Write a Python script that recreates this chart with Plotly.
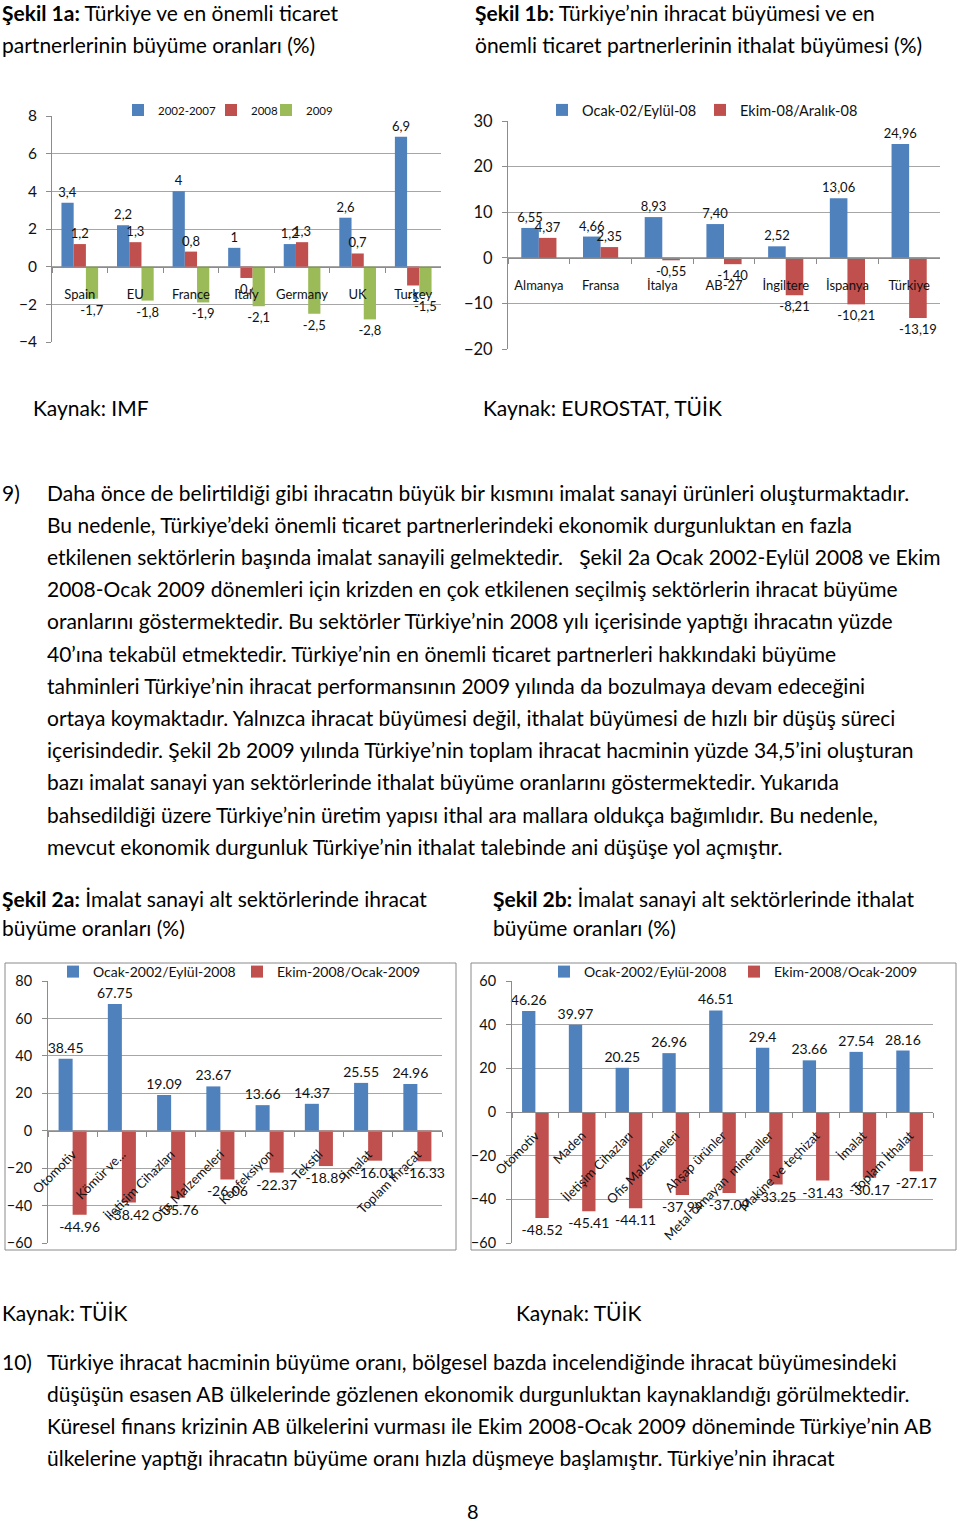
import plotly.graph_objects as go

W, H = 960, 1524
FONT = "Lato"
BLUE, RED, GREEN = "#4F81BD", "#C0504D", "#9BBB59"
GRID = "#a6a6a6"
AXIS = "#8c8c8c"

# ---------------- data ----------------
c1a_categories = ["Spain", "EU", "France", "Italy", "Germany", "UK", "Turkey"]
c1a_names = ["2002-2007", "2008", "2009"]
c1a_2002_2007 = [3.4, 2.2, 4, 1, 1.2, 2.6, 6.9]
c1a_2008 = [1.2, 1.3, 0.8, -0.6, 1.3, 0.7, -1]
c1a_2009 = [-1.7, -1.8, -1.9, -2.1, -2.5, -2.8, -1.5]
c1a_yticks = [-4, -2, 0, 2, 4, 6, 8]

c1b_categories = ["Almanya", "Fransa", "İtalya", "AB-27", "İngiltere", "İspanya", "Türkiye"]
c1b_names = ["Ocak-02/Eylül-08", "Ekim-08/Aralık-08"]
c1b_ocak02_eylul08 = [6.55, 4.66, 8.93, 7.40, 2.52, 13.06, 24.96]
c1b_ekim08_aralik08 = [4.37, 2.35, -0.55, -1.40, -8.21, -10.21, -13.19]
c1b_yticks = [-20, -10, 0, 10, 20, 30]

c2a_categories = ["Otomotiv", "Kömür ve...", "İletişim Cihazları", "Ofis Malzemeleri",
                  "Konfeksiyon", "Tekstil", "İmalat", "Toplam İhracat"]
c2a_names = ["Ocak-2002/Eylül-2008", "Ekim-2008/Ocak-2009"]
c2a_ocak2002_eylul2008 = [38.45, 67.75, 19.09, 23.67, 13.66, 14.37, 25.55, 24.96]
c2a_ekim2008_ocak2009 = [-44.96, -38.42, -35.76, -26.06, -22.37, -18.89, -16.01, -16.33]
c2a_yticks = [-60, -40, -20, 0, 20, 40, 60, 80]

c2b_categories = ["Otomotiv", "Maden", "İletişim Cihazları", "Ofis Malzemeleri", "Ahşap ürünler",
                  "Metal olmayan  mineraller", "Makine ve teçhizat", "İmalat", "Toplam İthalat"]
c2b_names = ["Ocak-2002/Eylül-2008", "Ekim-2008/Ocak-2009"]
c2b_ocak2002_eylul2008 = [46.26, 39.97, 20.25, 26.96, 46.51, 29.4, 23.66, 27.54, 28.16]
c2b_ekim2008_ocak2009 = [-48.52, -45.41, -44.11, -37.99, -37.09, -33.25, -31.43, -30.17, -27.17]
c2b_yticks = [-60, -40, -20, 0, 20, 40, 60]

title_1a = ["<b>Şekil 1a:</b> Türkiye ve en önemli ticaret", "partnerlerinin büyüme oranları (%)"]
title_1b = ["<b>Şekil 1b:</b> Türkiye’nin ihracat büyümesi ve en",
            "önemli ticaret partnerlerinin ithalat büyümesi (%)"]
title_2a = ["<b>Şekil 2a:</b> İmalat sanayi alt sektörlerinde ihracat", "büyüme oranları (%)"]
title_2b = ["<b>Şekil 2b:</b> İmalat sanayi alt sektörlerinde ithalat", "büyüme oranları (%)"]
source_1a, source_1b = "Kaynak: IMF", "Kaynak: EUROSTAT, TÜİK"
source_2a, source_2b = "Kaynak: TÜİK", "Kaynak: TÜİK"

para9_lines = [
    "Daha önce de belirtildiği gibi ihracatın büyük bir kısmını imalat sanayi ürünleri oluşturmaktadır.",
    "Bu nedenle, Türkiye’deki önemli ticaret partnerlerindeki ekonomik durgunluktan en fazla",
    "etkilenen sektörlerin başında imalat sanayili gelmektedir.   Şekil 2a Ocak 2002-Eylül 2008 ve Ekim",
    "2008-Ocak 2009 dönemleri için krizden en çok etkilenen seçilmiş sektörlerin ihracat büyüme",
    "oranlarını göstermektedir. Bu sektörler Türkiye’nin 2008 yılı içerisinde yaptığı ihracatın yüzde",
    "40’ına tekabül etmektedir. Türkiye’nin en önemli ticaret partnerleri hakkındaki büyüme",
    "tahminleri Türkiye’nin ihracat performansının 2009 yılında da bozulmaya devam edeceğini",
    "ortaya koymaktadır. Yalnızca ihracat büyümesi değil, ithalat büyümesi de hızlı bir düşüş süreci",
    "içerisindedir. Şekil 2b 2009 yılında Türkiye’nin toplam ihracat hacminin yüzde 34,5’ini oluşturan",
    "bazı imalat sanayi yan sektörlerinde ithalat büyüme oranlarını göstermektedir. Yukarıda",
    "bahsedildiği üzere Türkiye’nin üretim yapısı ithal ara mallara oldukça bağımlıdır. Bu nedenle,",
    "mevcut ekonomik durgunluk Türkiye’nin ithalat talebinde ani düşüşe yol açmıştır.",
]
para10_lines = [
    "Türkiye ihracat hacminin büyüme oranı, bölgesel bazda incelendiğinde ihracat büyümesindeki",
    "düşüşün esasen AB ülkelerinde gözlenen ekonomik durgunluktan kaynaklandığı görülmektedir.",
    "Küresel finans krizinin AB ülkelerini vurması ile Ekim 2008-Ocak 2009 döneminde Türkiye’nin AB",
    "ülkelerine yaptığı ihracatın büyüme oranı hızla düşmeye başlamıştır. Türkiye’nin ihracat",
]
page_number = "8"


# ---------------- helpers ----------------
def fx(px):
    return px / W


def fy(py):
    return 1 - py / H


def fmt_g_comma(v):
    return f"{v:g}".replace(".", ",")


def fmt_2_comma(v):
    return f"{v:.2f}".replace(".", ",")


def fmt_g(v):
    return f"{v:g}"


fig = go.Figure()
layout_axes = {}
annotations = []
shapes = []
legend_counter = [0]


def add_chart(idx, cats, series, names, colors, fmt, width, offsets, xpx, ypx, yrange,
              yticks, legend_marks, legend_size, tickangle, standoff, tick_size, label_size,
              cat_size, data_size):
    xa = "x" if idx == 1 else f"x{idx}"
    ya = "y" if idx == 1 else f"y{idx}"
    for vals, name, col, off, mark in zip(series, names, colors, offsets, legend_marks):
        legend_counter[0] += 1
        lname = "legend" if legend_counter[0] == 1 else f"legend{legend_counter[0]}"
        fig.add_trace(go.Bar(
            x=cats, y=vals, name=name, marker_color=col,
            width=width, offset=off,
            text=[fmt(v) for v in vals], textposition="outside",
            textfont=dict(size=data_size, color="#111", family=FONT),
            cliponaxis=False, constraintext="none",
            xaxis=xa, yaxis=ya, legend=lname, hoverinfo="skip",
        ))
        layout_axes[lname] = dict(
            orientation="h", x=fx(mark[0] - 23), y=fy(mark[1]),
            xanchor="left", yanchor="middle", bgcolor="rgba(0,0,0,0)",
            font=dict(size=legend_size, color="#111", family=FONT), itemwidth=30,
            borderwidth=0,
        )
    y0p, y1p = fy(ypx[1]), fy(ypx[0])
    zero_pos = y0p + (0 - yrange[0]) / (yrange[1] - yrange[0]) * (y1p - y0p)
    xkey = "xaxis" if idx == 1 else f"xaxis{idx}"
    ykey = "yaxis" if idx == 1 else f"yaxis{idx}"
    layout_axes[xkey] = dict(
        domain=[fx(xpx[0]), fx(xpx[1])], anchor="free", position=zero_pos,
        type="category", showline=True, linecolor=AXIS, linewidth=1,
        ticks="outside", tickson="boundaries", ticklen=5, tickcolor=AXIS,
        showgrid=False, zeroline=False, tickangle=tickangle, automargin=False,
        tickfont=dict(size=cat_size, color="#111", family=FONT),
        ticklabelstandoff=standoff, fixedrange=True,
    )
    layout_axes[ykey] = dict(
        domain=[y0p, y1p], anchor=xa, range=list(yrange), automargin=False,
        tickmode="array", tickvals=yticks, showline=True, linecolor=AXIS, linewidth=1,
        ticks="outside", ticklen=5, tickcolor=AXIS, showgrid=True, gridcolor=GRID,
        gridwidth=1, zeroline=False, ticklabelstandoff=label_size,
        tickfont=dict(size=tick_size, color="#111", family=FONT), fixedrange=True,
    )


add_chart(1, c1a_categories, [c1a_2002_2007, c1a_2008, c1a_2009], c1a_names,
          [BLUE, RED, GREEN], fmt_g_comma, 0.22, [-0.33, -0.11, 0.11],
          (52, 441), (116, 342), (-4, 8), c1a_yticks,
          [(141, 110), (234, 110), (289, 110)], 11.5, 0, 16, 15.5, 6, 13, 13)
add_chart(2, c1b_categories, [c1b_ocak02_eylul08, c1b_ekim08_aralik08], c1b_names,
          [BLUE, RED], fmt_2_comma, 0.285, [-0.285, 0.0],
          (508, 940), (121, 349), (-20, 30), c1b_yticks,
          [(565, 110), (723, 110)], 14.5, 0, 16, 16.5, 6, 13, 13)
add_chart(3, c2a_categories, [c2a_ocak2002_eylul2008, c2a_ekim2008_ocak2009], c2a_names,
          [BLUE, RED], fmt_g, 0.285, [-0.285, 0.0],
          (48, 442), (981, 1243), (-60, 80), c2a_yticks,
          [(76, 972), (260, 972)], 14, -45, 10, 14.5, 7, 13, 14)
add_chart(4, c2b_categories, [c2b_ocak2002_eylul2008, c2b_ekim2008_ocak2009], c2b_names,
          [BLUE, RED], fmt_g, 0.285, [-0.285, 0.0],
          (512, 933), (981, 1243), (-60, 60), c2b_yticks,
          [(567, 972), (757, 972)], 14, -45, 10, 14.5, 7, 13, 14)

# chart frames for 2a / 2b
for x0, x1 in [(5, 456), (471, 956)]:
    shapes.append(dict(type="rect", xref="paper", yref="paper",
                       x0=fx(x0), x1=fx(x1), y0=fy(1250), y1=fy(963),
                       line=dict(color="#8a8a8a", width=1), fillcolor="rgba(0,0,0,0)"))

BODY = 21


def text(s, x, y, size=BODY, xanchor="left"):
    annotations.append(dict(text=s, x=fx(x), y=fy(y), xref="paper", yref="paper",
                            xanchor=xanchor, yanchor="middle", showarrow=False,
                            font=dict(size=size, color="#000", family=FONT)))


for i, s in enumerate(title_1a):
    text(s, 0, 13 + i * 32)
for i, s in enumerate(title_1b):
    text(s, 473, 13 + i * 32)
text(source_1a, 31, 407)
text(source_1b, 481, 407)

text("9)", 0, 492)
for i, s in enumerate(para9_lines):
    text(s, 45, 492 + i * 32.2)

for i, s in enumerate(title_2a):
    text(s, 0, 898 + i * 29)
for i, s in enumerate(title_2b):
    text(s, 491, 898 + i * 29)

text(source_2a, 0, 1312)
text(source_2b, 514, 1312)

text("10)", 0, 1361)
for i, s in enumerate(para10_lines):
    text(s, 45, 1361 + i * 32.3)

text(page_number, 473, 1511, size=20, xanchor="center")

fig.update_layout(
    template="none",
    width=W, height=H, margin=dict(l=0, r=0, t=0, b=0, pad=0, autoexpand=False),
    paper_bgcolor="white", plot_bgcolor="rgba(0,0,0,0)",
    barmode="overlay", font=dict(family=FONT, color="#000"),
    annotations=annotations, shapes=shapes, hovermode=False, showlegend=True,
    **layout_axes,
)

fig.write_html(
    "out.html",
    config={"displayModeBar": False, "staticPlot": False},
    post_script="document.body.style.margin='0';document.body.style.padding='0';"
                "document.documentElement.style.overflow='hidden';",
)
